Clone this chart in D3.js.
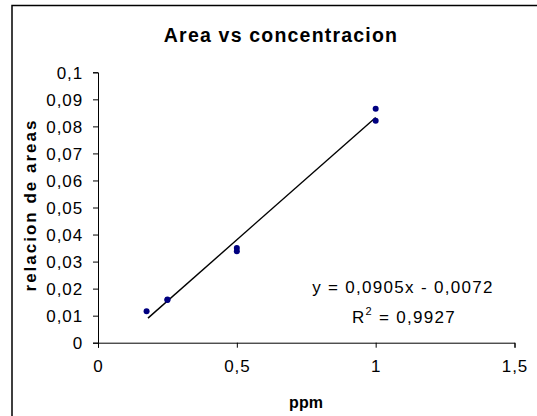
<!DOCTYPE html>
<html>
<head>
<meta charset="utf-8">
<script src="https://cdn.jsdelivr.net/npm/d3@7"></script>
<style>
  body { margin: 0; background: #fff; }
  svg { display: block; font-family: "Liberation Sans", Arial, sans-serif; }
</style>
</head>
<body>
<div id="chart"></div>
<script>
// data
const ppm = [0.175, 0.25, 0.25, 0.5, 0.5, 1, 1];
const relacion = [0.0116, 0.0158, 0.0160, 0.0350, 0.0338, 0.0865, 0.0821];
const xTicks = [0, 0.5, 1, 1.5];
const yTicks = [0, 0.01, 0.02, 0.03, 0.04, 0.05, 0.06, 0.07, 0.08, 0.09, 0.1];
const slope = 0.0905, intercept = -0.0072;
const eqText = 'y = 0,0905x - 0,0072';
const r2Value = '0,9927';

const width = 537, height = 416;
const svg = d3.select('#chart').append('svg').attr('width', width).attr('height', height);

// outer chart border
svg.append('rect')
  .attr('x', 12).attr('y', 5.5).attr('width', 540).attr('height', 420)
  .attr('fill', 'none').attr('stroke', '#000').attr('stroke-width', 1.5);

const x = d3.scaleLinear().domain([0, 1.5]).range([98, 514.5]);
const y = d3.scaleLinear().domain([0, 0.1]).range([342.7, 72.3]);
const fmt = d => String(d).replace('.', ',');

// axes
const xAxis = svg.append('g')
  .attr('transform', `translate(0,${y(0)})`)
  .call(d3.axisBottom(x).tickValues(xTicks).tickSize(5).tickPadding(12).tickFormat(fmt));
const yAxis = svg.append('g')
  .attr('transform', `translate(${x(0)},0)`)
  .call(d3.axisLeft(y).tickValues(yTicks).tickSize(5).tickPadding(10).tickFormat(fmt));
[xAxis, yAxis].forEach(g => {
  g.select('.domain').attr('stroke', '#000');
  g.selectAll('.tick line').attr('stroke', '#000');
  g.selectAll('text').attr('font-size', 17).attr('fill', '#000')
    .attr('letter-spacing', 0.9)
    .attr('font-family', '"Liberation Sans", Arial, sans-serif');
});
yAxis.selectAll('text').attr('dy', '0.36em');

// trendline from the equation
const x0 = 0.18, x1 = 1.0;
svg.append('line')
  .attr('x1', x(x0)).attr('y1', y(slope * x0 + intercept))
  .attr('x2', x(x1)).attr('y2', y(slope * x1 + intercept))
  .attr('stroke', '#000').attr('stroke-width', 1.4);

// points
svg.selectAll('circle.pt')
  .data(ppm.map((d, i) => [d, relacion[i]]))
  .enter().append('circle')
  .attr('class', 'pt')
  .attr('cx', d => x(d[0])).attr('cy', d => y(d[1]))
  .attr('r', 3).attr('fill', '#000080');

// title and axis titles
svg.append('text').attr('x', 281).attr('y', 42).attr('text-anchor', 'middle')
  .attr('font-size', 19.5).attr('font-weight', 'bold').attr('letter-spacing', 1.2)
  .text('Area vs concentracion');
svg.append('text').attr('x', 306).attr('y', 408).attr('text-anchor', 'middle')
  .attr('font-size', 16).attr('font-weight', 'bold').text('ppm');
svg.append('text').attr('transform', 'translate(36,205) rotate(-90)').attr('text-anchor', 'middle')
  .attr('font-size', 17).attr('font-weight', 'bold').attr('letter-spacing', 2)
  .text('relacion de areas');

// equation label
svg.append('text').attr('x', 403).attr('y', 293).attr('text-anchor', 'middle')
  .attr('font-size', 17).attr('letter-spacing', 1.3).text(eqText);
const r2 = svg.append('text').attr('x', 404).attr('y', 323).attr('text-anchor', 'middle')
  .attr('font-size', 17).attr('letter-spacing', 1.3);
r2.append('tspan').text('R');
r2.append('tspan').attr('font-size', 11).attr('dy', -8).text('2');
r2.append('tspan').attr('dy', 8).text(' = ' + r2Value);
</script>
</body>
</html>
